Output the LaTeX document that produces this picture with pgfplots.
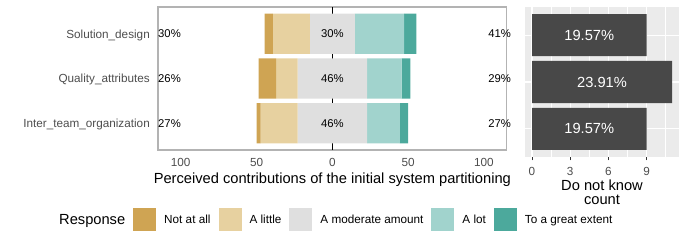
\documentclass[border=0pt]{standalone}
\usepackage{fontspec}
\setmainfont{Liberation Sans}
\usepackage{pgfplots}
\pgfplotsset{compat=1.18}
\definecolor{cNot}{HTML}{CFA453}
\definecolor{cLittle}{HTML}{E7D1A0}
\definecolor{cMod}{HTML}{DFDFDF}
\definecolor{cLot}{HTML}{A1D3CD}
\definecolor{cGreat}{HTML}{4CA99C}
\definecolor{tickgray}{HTML}{4D4D4D}
\definecolor{framegray}{HTML}{B3B3B3}
\definecolor{panelgray}{HTML}{EBEBEB}
\definecolor{barcol}{HTML}{484848}
\definecolor{tickdark}{HTML}{333333}
\newcommand{\ticksize}{\fontsize{11.73bp}{13bp}\selectfont}
\newcommand{\titlesize}{\fontsize{14.67bp}{14.5bp}\selectfont}
\newcommand{\pctsize}{\fontsize{11.3bp}{13bp}\selectfont}
\begin{document}
\begin{tikzpicture}
\path[use as bounding box] (0,0) rectangle (686bp,246bp);
% ---------------- left diverging panel (x shifted by +115 so that 0 is at x=115)
\begin{axis}[
  at={(158bp,96bp)}, anchor=south west,
  scale only axis, width=348.7bp, height=143bp,
  xmin=0, xmax=230, ymin=0.4, ymax=3.6,
  xbar stacked, bar width=0.9,
  axis line style={draw=framegray, line width=1.1bp},
  xtick={15,65,115,165,215}, xticklabels={100,50,0,50,100},
  ytick={1,2,3},
  yticklabels={Inter\_team\_organization,Quality\_attributes,Solution\_design},
  major tick length=0pt,
  /pgf/number format/assume math mode=true,
  tick label style={font=\ticksize, text=tickgray, inner sep=0pt},
  xticklabel style={anchor=base, yshift=-16.7bp},
  yticklabel style={anchor=base east, xshift=-8bp, yshift=-4.2bp},
  extra x ticks={115}, extra x tick labels={},
  extra x tick style={grid=major, major grid style={black, line width=0.8bp}},
  xlabel={Perceived contributions of the initial system partitioning},
  xlabel style={at={(axis description cs:0.5,0)}, anchor=base, yshift=-33.7bp, inner sep=0pt, font=\titlesize},
  legend columns=-1,
  legend image code/.code={\fill[#1] (0bp,-11.5bp) rectangle (23bp,11.5bp);},
  legend style={draw=none, fill=none, inner sep=0pt, column sep=0pt,
    at={(axis description cs:-0.3069,-0.488)}, anchor=west,
    nodes={inner sep=0pt, font=\ticksize},
    /tikz/every odd column/.append style={column sep=8bp},
    /tikz/every even column/.append style={column sep=8bp}},
  after end axis/.append code={
    \node[anchor=west, inner sep=0pt, font=\pctsize] at (axis cs:0,3) {30\%};
    \node[anchor=west, inner sep=0pt, font=\pctsize] at (axis cs:0,2) {26\%};
    \node[anchor=west, inner sep=0pt, font=\pctsize] at (axis cs:0,1) {27\%};
    \node[inner sep=0pt, font=\pctsize] at (axis cs:115,3) {30\%};
    \node[inner sep=0pt, font=\pctsize] at (axis cs:115,2) {46\%};
    \node[inner sep=0pt, font=\pctsize] at (axis cs:115,1) {46\%};
    \node[anchor=west, inner sep=0pt, font=\pctsize] at (axis cs:217.7,3) {41\%};
    \node[anchor=west, inner sep=0pt, font=\pctsize] at (axis cs:217.7,2) {29\%};
    \node[anchor=west, inner sep=0pt, font=\pctsize] at (axis cs:217.7,1) {27\%};
  },
]
\addlegendimage{empty legend}
\addlegendentry{\titlesize Response}
\addplot[draw=none, fill=none, forget plot] coordinates {(70.405,3) (66.429,2) (65.0,1)};
\addplot[draw=none, fill=cNot] coordinates {(5.405,3) (11.429,2) (2.703,1)};
\addlegendentry{Not at all}
\addplot[draw=none, fill=cLittle] coordinates {(24.324,3) (14.286,2) (24.324,1)};
\addlegendentry{A little}
\addplot[draw=none, fill=cMod] coordinates {(29.730,3) (45.714,2) (45.946,1)};
\addlegendentry{A moderate amount}
\addplot[draw=none, fill=cLot] coordinates {(32.432,3) (22.857,2) (21.622,1)};
\addlegendentry{A lot}
\addplot[draw=none, fill=cGreat] coordinates {(8.108,3) (5.714,2) (5.405,1)};
\addlegendentry{To a great extent}
\end{axis}
% ---------------- right count panel
\begin{axis}[
  at={(525bp,89bp)}, anchor=south west,
  scale only axis, width=154bp, height=150bp,
  xmin=-0.55, xmax=11.55, ymin=0.4, ymax=3.6,
  xbar, bar width=0.9,
  axis background/.style={fill=panelgray},
  axis line style={draw=none},
  xtick={0,3,6,9}, minor xtick={1.5,4.5,7.5,10.5},
  ytick={1,2,3}, yticklabels={},
  grid=both,
  major grid style={white, line width=1.1bp},
  minor grid style={white, line width=0.55bp},
  xtick pos=bottom, tick align=outside,
  major tick length=3.3bp, minor tick length=0pt,
  xtick style={draw=tickdark, line width=1bp},
  ytick style={draw=none},
  /pgf/number format/assume math mode=true,
  tick label style={font=\ticksize, text=tickgray, inner sep=0pt},
  xticklabel style={anchor=base, yshift=-15.3bp},
  xlabel={Do not know\\count},
  xlabel style={at={(axis description cs:0.5,0)}, anchor=north, yshift=-22.5bp, inner sep=0pt, align=center, font=\titlesize},
]
\addplot[draw=none, fill=barcol] coordinates {(9,3) (11,2) (9,1)};
\node[text=white, font=\titlesize] at (axis cs:4.5,3) {19.57\%};
\node[text=white, font=\titlesize] at (axis cs:5.5,2) {23.91\%};
\node[text=white, font=\titlesize] at (axis cs:4.5,1) {19.57\%};
\end{axis}
\end{tikzpicture}
\end{document}
